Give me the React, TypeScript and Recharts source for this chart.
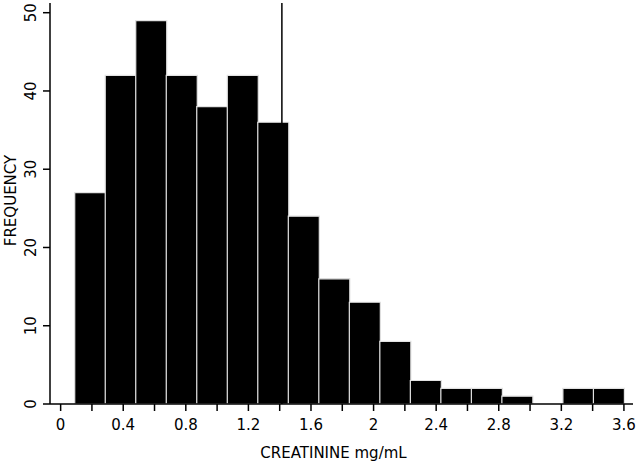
import React from "react";
import { BarChart, Bar, XAxis, YAxis, ReferenceLine, Label } from "recharts";

// bin centres (mg/mL) and counts
const binCenters = [
  0.1875, 0.3825, 0.5775, 0.7725, 0.9675, 1.1625, 1.3575, 1.5525, 1.7475,
  1.9425, 2.1375, 2.3325, 2.5275, 2.7225, 2.9175, 3.1125, 3.3075, 3.5025,
];
const counts = [27, 42, 49, 42, 38, 42, 36, 24, 16, 13, 8, 3, 2, 2, 1, 0, 2, 2];

const xTicks = [0, 0.2, 0.4, 0.6, 0.8, 1, 1.2, 1.4, 1.6, 1.8, 2, 2.2, 2.4, 2.6, 2.8, 3, 3.2, 3.4, 3.6];
const xLabeled = [0, 0.4, 0.8, 1.2, 1.6, 2, 2.4, 2.8, 3.2, 3.6];
const yTicks = [0, 10, 20, 30, 40, 50];
const cutoff = 1.414;

const data = binCenters.map((x, i) => ({ x, count: counts[i] }));

const FONT = "'DejaVu Sans', Verdana, sans-serif";

const XTick = (props: any) => {
  const { x, y, payload } = props;
  const v = payload.value;
  const show = xLabeled.some((t) => Math.abs(t - v) < 1e-6);
  return (
    <g transform={`translate(${x},${y})`}>
      <line x1={0} x2={0} y1={0} y2={7} stroke="#000" strokeWidth={1.5} />
      {show && (
        <text y={26} textAnchor="middle" fontSize={15} fontFamily={FONT} fill="#000">
          {String(v)}
        </text>
      )}
    </g>
  );
};

const YTick = (props: any) => {
  const { x, y, payload } = props;
  return (
    <g transform={`translate(${x},${y})`}>
      <line x1={-7} x2={0} y1={0} y2={0} stroke="#000" strokeWidth={1.5} />
      <text
        transform="translate(-19,0) rotate(-90)"
        textAnchor="middle"
        dominantBaseline="central"
        fontSize={15}
        fontFamily={FONT}
        fill="#000"
      >
        {payload.value}
      </text>
    </g>
  );
};

const YLabel = (props: any) => {
  const vb = props.viewBox;
  const cx = vb.x + 11;
  const cy = vb.y + vb.height / 2 - 3;
  return (
    <text
      transform={`translate(${cx},${cy}) rotate(-90)`}
      textAnchor="middle"
      dominantBaseline="central"
      fontSize={15}
      fontFamily={FONT}
      fill="#000"
    >
      FREQUENCY
    </text>
  );
};

export default function App() {
  return (
    <div style={{ position: "absolute", left: 0, top: 0, background: "#fff" }}>
      <BarChart
        width={640}
        height={465}
        data={data}
        margin={{ top: 3, right: 7, left: 0, bottom: 0 }}
        barCategoryGap={0}
        barGap={0}
      >
        <XAxis
          dataKey="x"
          type="number"
          domain={[-0.068, 3.658]}
          ticks={xTicks}
          interval={0}
          allowDataOverflow
          tickLine={false}
          tickSize={0}
          tickMargin={0}
          tick={<XTick />}
          height={61}
          axisLine={{ stroke: "#000", strokeWidth: 1.5 }}
        >
          <Label
            value="CREATININE mg/mL"
            position="insideBottom"
            offset={7}
            dx={-8}
            style={{ fontSize: 15, fontFamily: FONT, fill: "#000" }}
          />
        </XAxis>
        <YAxis
          type="number"
          domain={[0, 51.24]}
          ticks={yTicks}
          interval={0}
          allowDataOverflow
          tickLine={false}
          tickSize={0}
          tickMargin={0}
          tick={<YTick />}
          width={50}
          axisLine={{ stroke: "#000", strokeWidth: 1.5 }}
        >
          <Label content={<YLabel />} />
        </YAxis>
        <Bar
          dataKey="count"
          fill="#000"
          stroke="#e2e2e2"
          strokeWidth={1.2}
          isAnimationActive={false}
        />
        <ReferenceLine x={cutoff} stroke="#000" strokeWidth={1.5} />
      </BarChart>
    </div>
  );
}
